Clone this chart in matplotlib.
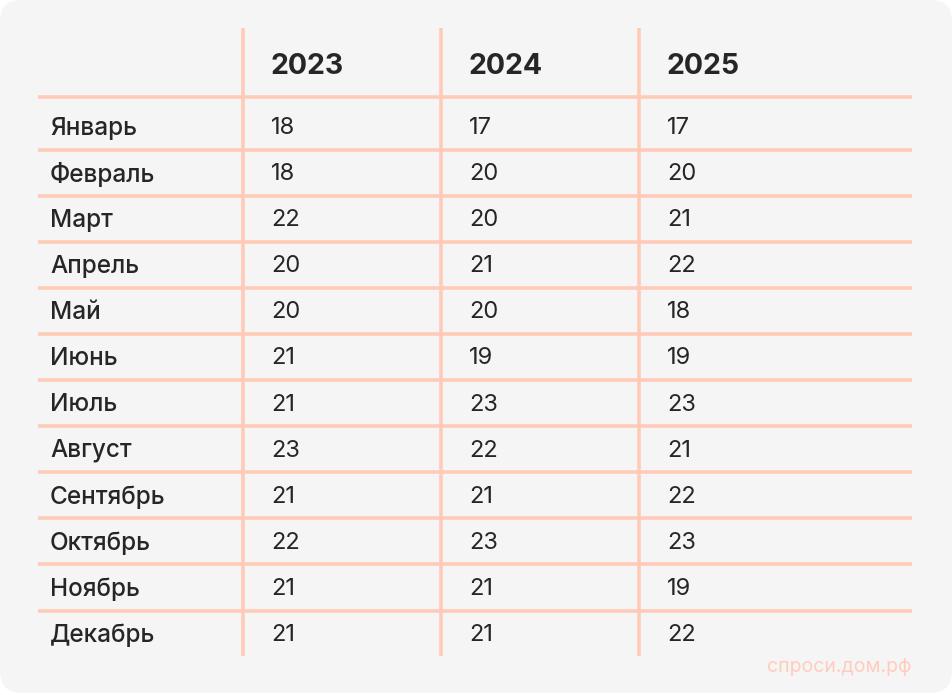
import matplotlib.pyplot as plt
from matplotlib.patches import FancyBboxPatch

months = ['Январь', 'Февраль', 'Март', 'Апрель', 'Май', 'Июнь',
          'Июль', 'Август', 'Сентябрь', 'Октябрь', 'Ноябрь', 'Декабрь']
years = ['2023', '2024', '2025']
y2023 = [18, 18, 22, 20, 20, 21, 21, 23, 21, 22, 21, 21]
y2024 = [17, 20, 20, 21, 20, 19, 23, 22, 21, 23, 21, 21]
y2025 = [17, 20, 21, 22, 18, 19, 23, 21, 22, 23, 19, 22]
columns = [y2023, y2024, y2025]

W, H = 952, 695
fig = plt.figure(figsize=(W / 100, H / 100), dpi=100)
fig.patch.set_facecolor('white')
ax = fig.add_axes([0, 0, 1, 1])
ax.set_xlim(0, W)
ax.set_ylim(H, 0)
ax.axis('off')

ax.add_patch(FancyBboxPatch((0, 0), W, H - 2, boxstyle='round,pad=0,rounding_size=22',
                            facecolor='#f5f5f5', edgecolor='none'))

line_c = '#ffcbb8'
text_c = '#262626'
font = 'Inter'

header_y = 64
row0 = 126.5
step = 46.1
col_x = [243, 441, 639]
dy = 1.5  # small nudge so text sits on the row centre

# grid lines
ax.hlines(97, 38, 912, color=line_c, lw=2.6)
for i in range(1, len(months)):
    y = row0 + (i - 0.5) * step
    ax.hlines(y, 38, 912, color=line_c, lw=2.6)
for x in col_x:
    ax.vlines(x, 28, 656, color=line_c, lw=2.6)

for j, yr in enumerate(years):
    ax.text(col_x[j] + 28, header_y + 2, yr, fontsize=20.5, fontweight='bold',
            color=text_c, va='center', ha='left', family=font)

for i, m in enumerate(months):
    y = row0 + i * step + dy
    ax.text(50, y, m, fontsize=17.5, fontweight='medium', color=text_c,
            va='center', ha='left', family=font)
    for j, col in enumerate(columns):
        ax.text(col_x[j] + 28, y, str(col[i]), fontsize=17, color=text_c,
                va='center', ha='left', family=font)

ax.text(912, 667, 'спроси.дом.рф', fontsize=14, color='#ffcdbc',
        va='center', ha='right', family=font)

fig.savefig('out.png', dpi=100, facecolor=fig.get_facecolor())
